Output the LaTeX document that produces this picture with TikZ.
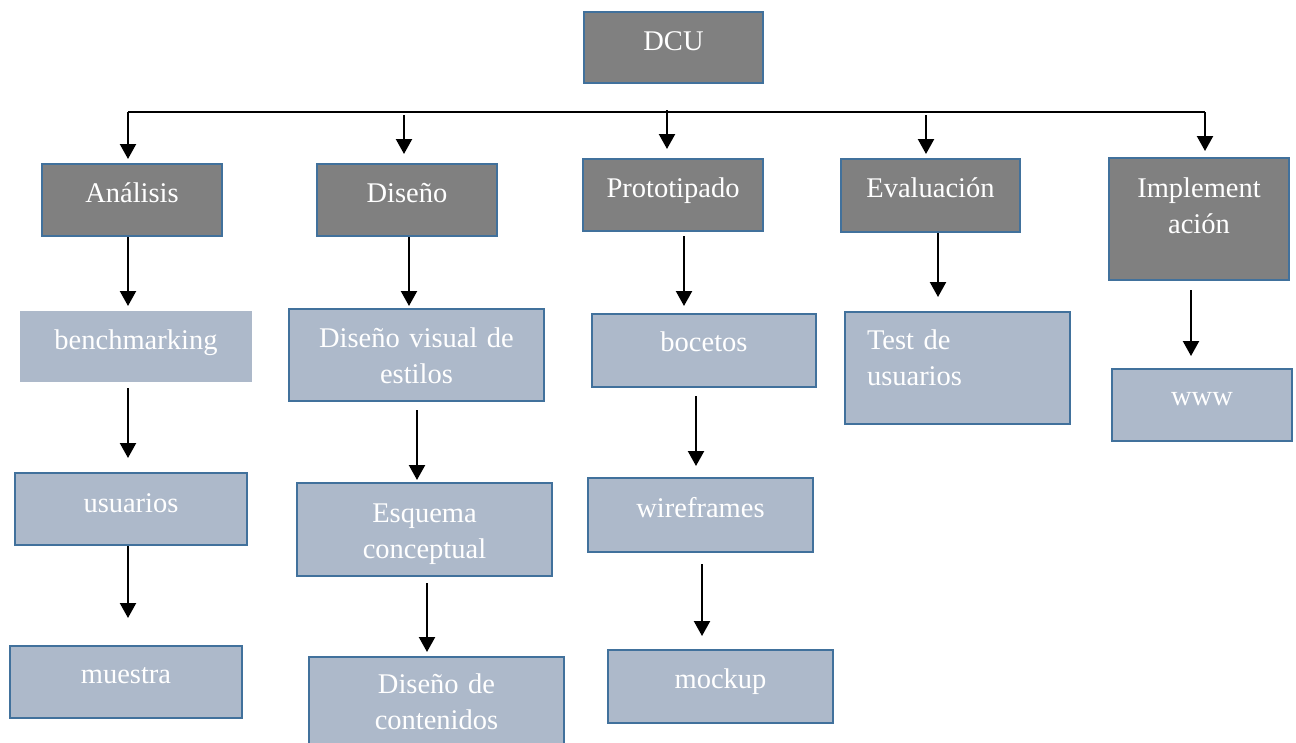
\documentclass[tikz,border=0pt]{standalone}
\usepackage{fontspec}
\setmainfont{Liberation Serif}
\usepackage{tikz}
\usetikzlibrary{arrows.meta}
\definecolor{phasegray}{HTML}{808080}
\definecolor{taskblue}{HTML}{ADB9CA}
\definecolor{edgeblue}{HTML}{41719C}

\begin{document}
\begin{tikzpicture}[x=1pt, y=-1pt,
    phase/.style={draw=edgeblue, 
      line width=2pt, 
      fill=phasegray, 
      text=white, 
      inner sep=0pt, 
      anchor=base, 
      align=center, 
      font=\fontsize{28.5}{36}\selectfont},
    task/.style={phase, fill=taskblue},
    boxsize/.style n args={3}{text width=#1pt, text height=#2pt, text depth=#3pt},
    flow/.style={line width=2.2pt, -{Triangle[length=15pt, width=16pt]}}]
  \clip (0,0) rectangle (1296,742);

% PHASES

  \node [phase, boxsize={179}{38}{33}] (dcu) at (673.5,50) {DCU};

  \node [phase, boxsize={180}{38}{34}] (analisis) at (132,202) {Análisis};
  \node [phase, boxsize={180}{38}{34}] (diseno) at (407,202) {Diseño};
  \node [phase, boxsize={180}{38}{34}] (prototipado) at (673,197) {Prototipado};
  \node [phase, boxsize={179}{38}{35}] (evaluacion) at (930.5,197) {Evaluación};
  \node [phase, boxsize={180}{39}{83}] (implementacion) at (1199,197) {Implement\\ación};

% TASKS

  \node [task, draw=none, boxsize={232}{38}{33}] (benchmarking) at (136,349) {benchmarking};
  \node [task, boxsize={232}{39}{33}] (usuarios) at (131,512) {usuarios};
  \node [task, boxsize={232}{37}{35}] (muestra) at (126,683) {muestra};

  \node [task, boxsize={255}{38}{54}] (visual) at (416.5,347) {Diseño visual de\\estilos};
  \node [task, boxsize={255}{39}{54}] (esquema) at (424.5,522) {Esquema\\conceptual};
  \node [task, boxsize={255}{36}{56}] (contenidos) at (436.5,693) {Diseño de\\contenidos};

  \node [task, boxsize={224}{37}{36}] (bocetos) at (704,351) {bocetos};
  \node [task, boxsize={225}{39}{35}] (wireframes) at (700.5,517) {wireframes};
  \node [task, boxsize={225}{38}{35}] (mockup) at (720.5,688) {mockup};

  \node [task, boxsize={181}{37}{75}, 
    inner xsep=22pt, 
    align=left] (test) at (957.5,349) {Test de\\usuarios};

  \node [task, boxsize={180}{36}{36}] (www) at (1202,405) {www};

  % BUS

  \coordinate (busleft) at (128,112);
  \coordinate (busright) at (1205,112);
  \coordinate (tapdis) at (404,115);
  \coordinate (tappro) at (667,110);
  \coordinate (tapeva) at (926,115);

  \draw[line width=1.3pt] (busleft) -- (busright);
  \draw[flow, shorten >=4pt] (busleft) -- (analisis.north -| busleft);
  \draw[flow, shorten >=9pt] (tapdis) -- (diseno.north -| tapdis);
  \draw[flow, shorten >=9pt] (tappro) -- (prototipado.north -| tappro);
  \draw[flow, shorten >=4pt] (tapeva) -- (evaluacion.north -| tapeva);
  \draw[flow, shorten >=6pt] (busright) -- (implementacion.north -| busright);

  % COLUMNS

  \draw[flow, shorten >=4pt] (analisis.south -| 128,0) -- (benchmarking.north -| 128,0);
  \draw[flow, shorten <=5pt, shorten >=14pt] (benchmarking.south -| 128,0) -- (usuarios.north -| 128,0);
  \draw[flow, shorten >=27pt] (usuarios.south -| 128,0) -- (muestra.north -| 128,0);

  \draw[flow, shorten >=2pt] (diseno.south -| 409,0) -- (visual.north -| 409,0);
  \draw[flow, shorten <=8pt, shorten >=2pt] (visual.south -| 417,0) -- (esquema.north -| 417,0);
  \draw[flow, shorten <=6pt, shorten >=4pt] (esquema.south -| 427,0) -- (contenidos.north -| 427,0);

  \draw[flow, shorten <=4pt, shorten >=7pt] (prototipado.south -| 684,0) -- (bocetos.north -| 684,0);
  \draw[flow, shorten <=8pt, shorten >=11pt] (bocetos.south -| 696,0) -- (wireframes.north -| 696,0);
  \draw[flow, shorten <=11pt, shorten >=13pt] (wireframes.south -| 702,0) -- (mockup.north -| 702,0);

  \draw[flow, shorten >=14pt] (evaluacion.south -| 938,0) -- (test.north -| 938,0);
  \draw[flow, shorten <=9pt, shorten >=12pt] (implementacion.south -| 1191,0) -- (www.north -| 1191,0);

\end{tikzpicture}
\end{document}
